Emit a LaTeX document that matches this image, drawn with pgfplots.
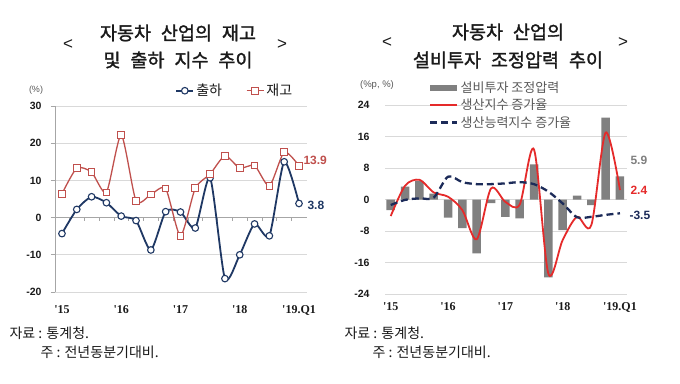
\documentclass[border=0pt]{standalone}
\usepackage{fontspec}
\setmainfont{Liberation Sans}
\newfontfamily\krt{Noto Sans CJK KR}[WordSpace=2.4, FakeBold=1.5]
\newfontfamily\kr{Noto Sans CJK KR}[WordSpace=2]
\newfontfamily\krn{Noto Sans CJK KR}
\newfontfamily\serifb{Liberation Serif}
\usepackage{pgfplots}
\usepackage{pgfplotstable}
\pgfplotsset{compat=1.18}
\definecolor{navy}{HTML}{1F3864}
\definecolor{lred}{HTML}{C0504D}
\definecolor{bred}{HTML}{E52A2A}
\definecolor{dnavy}{HTML}{1C2B59}
\definecolor{barg}{HTML}{808080}
\definecolor{gridc}{HTML}{D9D9D9}
\definecolor{axc}{HTML}{A6A6A6}
\definecolor{txt}{HTML}{1A1A1A}
\definecolor{legt}{HTML}{595959}

\pgfplotstableread{
x ship inv
0 -4.3 6.4
1 2.2 13.3
2 5.6 12.2
3 4.0 6.8
4 0.4 22.2
5 -0.8 4.5
6 -8.7 6.2
7 1.6 7.8
8 1.5 -4.9
9 -2.8 7.9
10 10.7 11.7
11 -16.4 16.6
12 -10.0 13.3
13 -1.7 14.0
14 -4.9 8.5
15 15.0 17.6
16 3.8 13.9
}\leftdata

\pgfplotstableread{
x bar prod cap
0 -2.7 -4.2 -1.4
1 3.3 3.5 -0.1
2 4.7 5.0 0.3
3 1.5 1.8 0.5
4 -4.6 0.7 5.8
5 -7.3 -2.7 4.4
6 -13.7 -10.1 3.9
7 -0.9 2.8 3.9
8 -4.4 -0.6 4.1
9 -4.8 -1.3 4.4
10 8.9 12.7 3.9
11 -19.8 -18.8 2.0
12 -7.8 -10.3 -1.0
13 1.0 -4.4 -4.5
14 -1.4 -6.5 -4.4
15 20.8 17.0 -3.9
16 5.9 2.4 -3.5
}\rightdata

\begin{document}
\begin{tikzpicture}[x=1pt,y=1pt]
\path[use as bounding box, fill=white] (0,0) rectangle (680,383);

% ---------- titles ----------
\node[txt, font=\krt\fontsize{18.5}{20}\selectfont] at (178,350) {자동차 산업의 재고};
\node[txt, font=\krt\fontsize{18.5}{20}\selectfont] at (178,323) {및 출하 지수 추이};
\node[txt, font=\fontsize{17}{19}\selectfont] at (68,338) {<};
\node[txt, font=\fontsize{17}{19}\selectfont] at (282,338) {>};

\node[txt, font=\krt\fontsize{18.5}{20}\selectfont] at (508,351) {자동차 산업의};
\node[txt, font=\krt\fontsize{18.5}{20}\selectfont] at (508,323) {설비투자 조정압력 추이};
\node[txt, font=\fontsize{17}{19}\selectfont] at (387,340) {<};
\node[txt, font=\fontsize{17}{19}\selectfont] at (623,340) {>};

\node[legt, font=\fontsize{9}{10}\selectfont] at (36,293) {(\%)};
\node[legt, font=\fontsize{9.5}{10}\selectfont] at (377,298) {(\%p, \%)};

% ---------- left chart ----------
\begin{axis}[
  at={(55pt,91pt)}, anchor=south west,
  scale only axis, width=252pt, height=186pt,
  xmin=-0.47, xmax=16.54, ymin=-20, ymax=30,
  ytick={-20,-10,...,30},
  xtick={0,4,8,12,16},
  xticklabels={'15,'16,'17,'18,'19.Q1},
  axis x line*=bottom, axis y line*=left,
  x axis line style={gridc, line width=0.6pt, -},
  y axis line style={axc, line width=0.7pt, -},
  xtick style={draw=none},
  ytick style={axc, line width=0.7pt},
  tick align=outside, major tick length=4pt,
  ymajorgrids, grid style={gridc, line width=0.6pt},
  /pgf/number format/assume math mode=true,
  yticklabel style={font=\bfseries\fontsize{10.5}{12}\selectfont, txt, xshift=-6pt},
  xticklabel style={font=\serifb\bfseries\fontsize{12}{13}\selectfont, txt, yshift=-6pt},
  legend style={at={(0.465,1.14)}, anchor=north west, draw=none, fill=none,
    legend columns=2, font=\krn\fontsize{14}{15}\selectfont, text=txt,
    /tikz/every even column/.append style={column sep=22pt}},
  clip=false,
]
\draw[axc, line width=0.8pt] (axis cs:-0.47,0) -- (axis cs:16.54,0);
\pgfplotsinvokeforeach{0.5,1.5,...,15.5}{\draw[axc, line width=0.6pt] (axis cs:#1,0) -- ++(0pt,-3.5pt);}
\addplot[navy, line width=1.8pt, smooth, tension=0.4, mark=*, mark size=3.3pt,
  mark options={fill=white, draw=navy, line width=1.1pt, solid}] table[x=x,y=ship]\leftdata;
\addlegendentry{출하}
\addplot[lred, line width=1.3pt, smooth, tension=0.4, mark=square*, mark size=3.3pt,
  mark options={fill=white, draw=lred, line width=1.0pt, solid}] table[x=x,y=inv]\leftdata;
\addlegendentry{재고}
\end{axis}

\node[lred, anchor=west, font=\bfseries\fontsize{12}{13}\selectfont] at (300,223) {13.9};
\node[navy, anchor=west, font=\bfseries\fontsize{12}{13}\selectfont] at (304,178) {3.8};

% ---------- right chart ----------
\begin{axis}[
  at={(385pt,89pt)}, anchor=south west,
  scale only axis, width=242pt, height=189pt,
  xmin=-0.4, xmax=16.49, ymin=-24, ymax=24,
  ytick={-24,-16,...,24},
  xtick={0,4,8,12,16},
  xticklabels={'15,'16,'17,'18,'19.Q1},
  axis line style={draw=none},
  major tick length=0pt,
  ymajorgrids, grid style={gridc, line width=0.6pt},
  /pgf/number format/assume math mode=true,
  yticklabel style={font=\bfseries\fontsize{10.5}{12}\selectfont, txt, xshift=-12pt},
  xticklabel style={font=\serifb\bfseries\fontsize{12}{13}\selectfont, txt, yshift=-5pt},
  legend style={at={(0.17,1.145)}, anchor=north west, draw=none, fill=none,
    legend cell align=left, font=\kr\fontsize{13}{14}\selectfont, text=legt,
    row sep=1pt},
  clip=false,
]
\addplot[ybar, bar width=8.5pt, fill=barg, draw=none,
  legend image code/.code={\fill[barg] (0pt,-3pt) rectangle (27pt,3pt);}]
  table[x=x,y=bar]\rightdata;
\addlegendentry{설비투자 조정압력}
\addplot[bred, line width=1.8pt, smooth, no markers,
  legend image code/.code={\draw[solid, draw=bred, line width=2pt] (0pt,0pt) -- (27pt,0pt);}]
  table[x=x,y=prod]\rightdata;
\addlegendentry{생산지수 증가율}
\addplot[dnavy, line width=2.3pt, smooth, no markers, dash pattern=on 7pt off 4pt,
  legend image code/.code={\draw[draw=dnavy, line width=2.3pt, dash pattern=on 7pt off 4pt] (0pt,0pt) -- (27pt,0pt);}]
  table[x=x,y=cap]\rightdata;
\addlegendentry{생산능력지수 증가율}
\end{axis}

\node[barg, anchor=west, font=\bfseries\fontsize{12}{13}\selectfont] at (627,223) {5.9};
\node[bred, anchor=west, font=\bfseries\fontsize{12}{13}\selectfont] at (627,193) {2.4};
\node[dnavy, anchor=west, font=\bfseries\fontsize{12}{13}\selectfont] at (626,168) {-3.5};

% ---------- footers ----------
\node[txt, anchor=west, font=\krn\fontsize{14}{15}\selectfont] at (6,50) {자료 : 통계청.};
\node[txt, anchor=west, font=\krn\fontsize{14}{15}\selectfont] at (37,31) {주 : 전년동분기대비.};
\node[txt, anchor=west, font=\krn\fontsize{14}{15}\selectfont] at (341,50) {자료 : 통계청.};
\node[txt, anchor=west, font=\krn\fontsize{14}{15}\selectfont] at (369,31) {주 : 전년동분기대비.};
\end{tikzpicture}
\end{document}
